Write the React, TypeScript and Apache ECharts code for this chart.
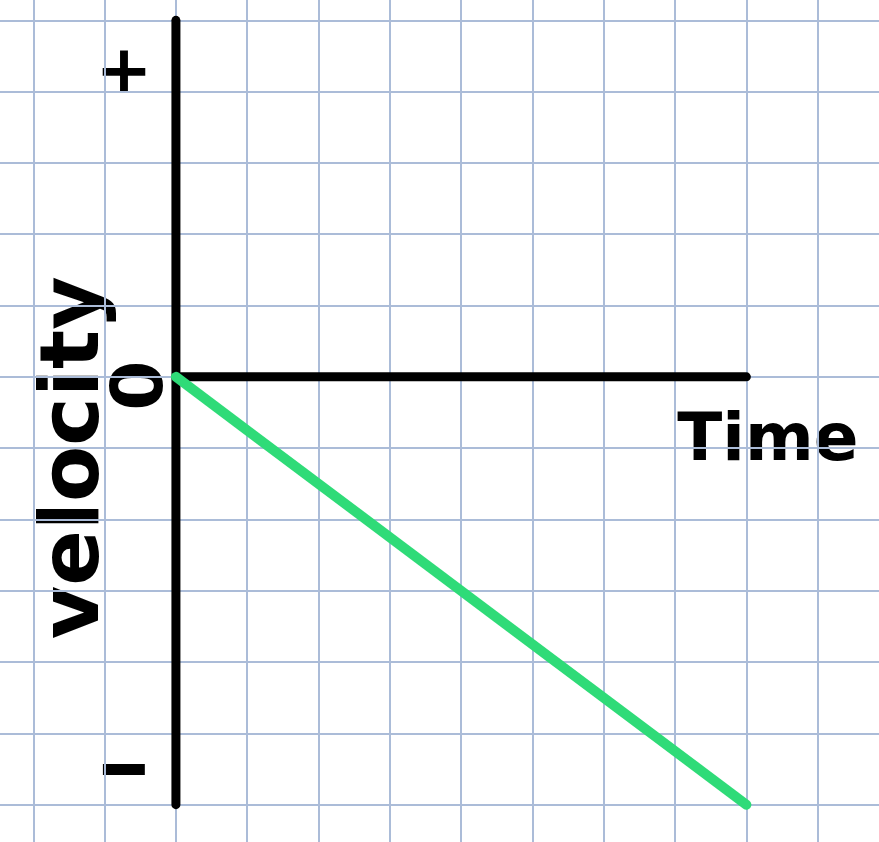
import React, { useEffect, useRef } from "react";
import * as echarts from "echarts";

// Data (in grid-cell units; origin at axes intersection)
const timeAxisX = [0, 8];
const timeAxisY = [0, 0];
const velocityAxisX = [0, 0];
const velocityAxisY = [5, -6];
const lineTime = [0, 8];
const lineVelocity = [0, -6];
const yMarks = ["+", "0", "-"];
const xTitle = "Time";
const yTitle = "velocity";

const W = 879;
const H = 842;
const CELL = 71.3;
const ORIGIN_X = 176;
const ORIGIN_Y = 377;
const X_MIN = -3;
const X_MAX = 10;
const Y_MIN = -7;
const Y_MAX = 6;
const OFF_X = ORIGIN_X + X_MIN * CELL;
const OFF_Y = ORIGIN_Y - Y_MAX * CELL;
const CW = (X_MAX - X_MIN) * CELL;
const CH = (Y_MAX - Y_MIN) * CELL;

export default function App() {
  const ref = useRef<HTMLDivElement>(null);
  useEffect(() => {
    if (!ref.current) return;
    const chart = echarts.init(ref.current, null, { renderer: "svg" });
    const font = "'DejaVu Sans', sans-serif";
    const px = (x: number) => x - OFF_X;
    const py = (y: number) => y - OFF_Y;
    chart.setOption({
      animation: false,
      backgroundColor: "#ffffff",
      grid: { left: 0, right: 0, top: 0, bottom: 0, containLabel: false },
      xAxis: {
        type: "value",
        min: X_MIN,
        max: X_MAX,
        interval: 1,
        axisLine: { show: false },
        axisTick: { show: false },
        axisLabel: { show: false },
        splitLine: { show: true, lineStyle: { color: "#abbcd8", width: 2 } },
      },
      yAxis: {
        type: "value",
        min: Y_MIN,
        max: Y_MAX,
        interval: 1,
        axisLine: { show: false },
        axisTick: { show: false },
        axisLabel: { show: false },
        splitLine: { show: true, lineStyle: { color: "#abbcd8", width: 2 } },
      },
      series: [
        {
          type: "line",
          data: timeAxisX.map((x, i) => [x, timeAxisY[i]]),
          showSymbol: false,
          lineStyle: { color: "#000000", width: 9, cap: "round" },
          z: 3,
        },
        {
          type: "line",
          data: velocityAxisX.map((x, i) => [x, velocityAxisY[i]]),
          showSymbol: false,
          lineStyle: { color: "#000000", width: 9, cap: "round" },
          z: 3,
        },
        {
          type: "line",
          data: lineTime.map((x, i) => [x, lineVelocity[i]]),
          showSymbol: false,
          lineStyle: { color: "#2fdb78", width: 10, cap: "round" },
          z: 4,
        },
      ],
      graphic: [
        {
          type: "text",
          x: px(124),
          y: py(70),
          style: { text: yMarks[0], font: `bold 68px ${font}`, fill: "#000", align: "center", verticalAlign: "middle" },
        },
        {
          type: "text",
          x: px(137),
          y: py(386),
          rotation: Math.PI / 2,
          style: { text: yMarks[1], font: `bold 72px ${font}`, fill: "#000", align: "center", verticalAlign: "middle" },
        },
        {
          type: "text",
          x: px(124),
          y: py(766),
          scaleX: 1.8,
          style: { text: yMarks[2], font: `bold 76px ${font}`, fill: "#000", align: "center", verticalAlign: "middle" },
        },
        {
          type: "text",
          x: px(768),
          y: py(438),
          style: { text: xTitle, font: `bold 66px ${font}`, fill: "#000", align: "center", verticalAlign: "middle" },
        },
        {
          type: "text",
          x: px(70),
          y: py(458),
          rotation: Math.PI / 2,
          style: { text: yTitle, font: `bold 82px ${font}`, fill: "#000", align: "center", verticalAlign: "middle" },
        },
      ],
    });
    return () => chart.dispose();
  }, []);
  return (
    <div style={{ position: "fixed", left: 0, top: 0, width: W, height: H, overflow: "hidden", background: "#fff" }}>
      <div
        ref={ref}
        style={{ position: "absolute", left: OFF_X, top: OFF_Y, width: CW, height: CH }}
      />
    </div>
  );
}
